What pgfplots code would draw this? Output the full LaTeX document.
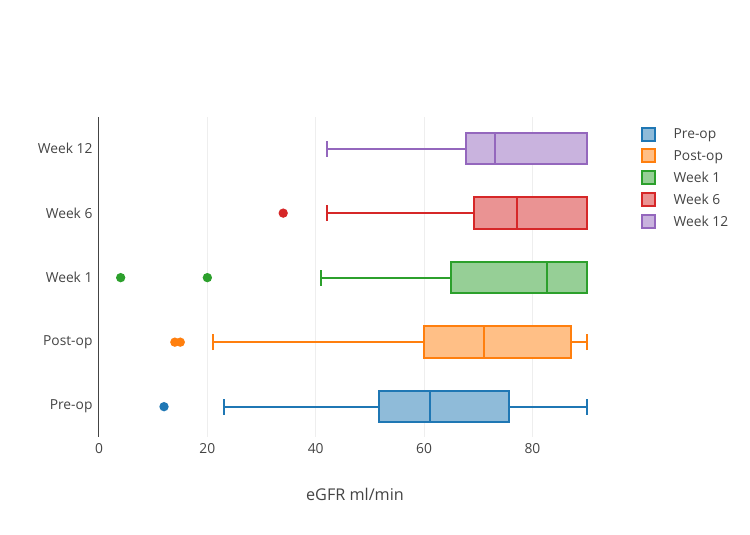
\documentclass[border=0pt]{standalone}
\usepackage{pgfplots}
\pgfplotsset{compat=1.18}
\usepgfplotslibrary{statistics}
\usepackage{fontspec}
\setmainfont{Open Sans}

\definecolor{c1}{HTML}{1F77B4}
\definecolor{c2}{HTML}{FF7F0E}
\definecolor{c3}{HTML}{2CA02C}
\definecolor{c4}{HTML}{D62728}
\definecolor{c5}{HTML}{9467BD}
\definecolor{txt}{HTML}{444444}
\definecolor{grd}{HTML}{EEEEEE}

% one horizontal box per visit, outliers passed as coordinates
\pgfplotsset{
  egfrbox/.style={
    forget plot,
    draw=#1, line width=2pt,
    boxplot/every box/.style={draw=#1, fill=#1!50},
    mark=*, mark size=3.6pt,
    mark options={solid, fill=#1, draw=none},
  },
}

\begin{document}
\begin{tikzpicture}
\begin{axis}[
  at={(0,0)}, anchor=south west,
  scale only axis, width=512pt, height=320pt,
  xmin=0, xmax=94.5, ymin=0.53, ymax=5.49,
  axis lines*=left,
  x axis line style={draw=none},
  y axis line style={draw=txt, line width=1pt},
  xtick={0,20,40,60,80},
  ytick={1,2,3,4,5},
  yticklabels={Pre-op,Post-op,Week 1,Week 6,Week 12},
  major tick length=0pt,
  xmajorgrids, grid style={grd, line width=1pt},
  ticklabel style={font=\fontsize{13.8}{16}\selectfont, text=txt},
  xticklabel style={yshift=-3pt},
  yticklabel style={xshift=-3pt},
  /pgf/number format/assume math mode=true,
  xlabel={eGFR ml/min},
  xlabel style={font=\fontsize{16.2}{19}\selectfont, text=txt,
    at={(axis description cs:0.5,0)}, anchor=center, yshift=-57pt},
  boxplot/draw direction=x,
  boxplot/box extend=0.49,
  boxplot/whisker extend=0.25,
  legend style={draw=none, fill=none, at={(rel axis cs:1.0575,0.976)},
    anchor=north west, font=\fontsize{13.8}{16}\selectfont, text=txt,
    row sep=6pt, inner xsep=0pt},
  legend cell align=left,
  legend image code/.code={
    \draw[#1] (1pt,-6.5pt) rectangle (14pt,6.5pt);
    \path[draw=none, fill=none] (0pt,0pt) -- (31pt,0pt);},
]
\addplot[egfrbox=c1, boxplot prepared={lower whisker=23, lower quartile=51.7,
  median=61.1, upper quartile=75.6, upper whisker=90, draw position=1}]
  coordinates {(0,12)};
\addplot[egfrbox=c2, boxplot prepared={lower whisker=21, lower quartile=60,
  median=71.1, upper quartile=87.1, upper whisker=90, draw position=2}]
  coordinates {(0,14) (0,15)};
\addplot[egfrbox=c3, boxplot prepared={lower whisker=41, lower quartile=65,
  median=82.6, upper quartile=90, upper whisker=90, draw position=3}]
  coordinates {(0,4) (0,20)};
\addplot[egfrbox=c4, boxplot prepared={lower whisker=42, lower quartile=69.3,
  median=77.1, upper quartile=90, upper whisker=90, draw position=4}]
  coordinates {(0,34)};
\addplot[egfrbox=c5, boxplot prepared={lower whisker=42, lower quartile=67.7,
  median=73, upper quartile=90, upper whisker=90, draw position=5}]
  coordinates {};

\addlegendimage{draw=c1, fill=c1!50, line width=2pt}
\addlegendentry{Pre-op}
\addlegendimage{draw=c2, fill=c2!50, line width=2pt}
\addlegendentry{Post-op}
\addlegendimage{draw=c3, fill=c3!50, line width=2pt}
\addlegendentry{Week 1}
\addlegendimage{draw=c4, fill=c4!50, line width=2pt}
\addlegendentry{Week 6}
\addlegendimage{draw=c5, fill=c5!50, line width=2pt}
\addlegendentry{Week 12}
\end{axis}
\path[use as bounding box] (-99pt,-98pt) rectangle (651pt,437pt);
\end{tikzpicture}
\end{document}
